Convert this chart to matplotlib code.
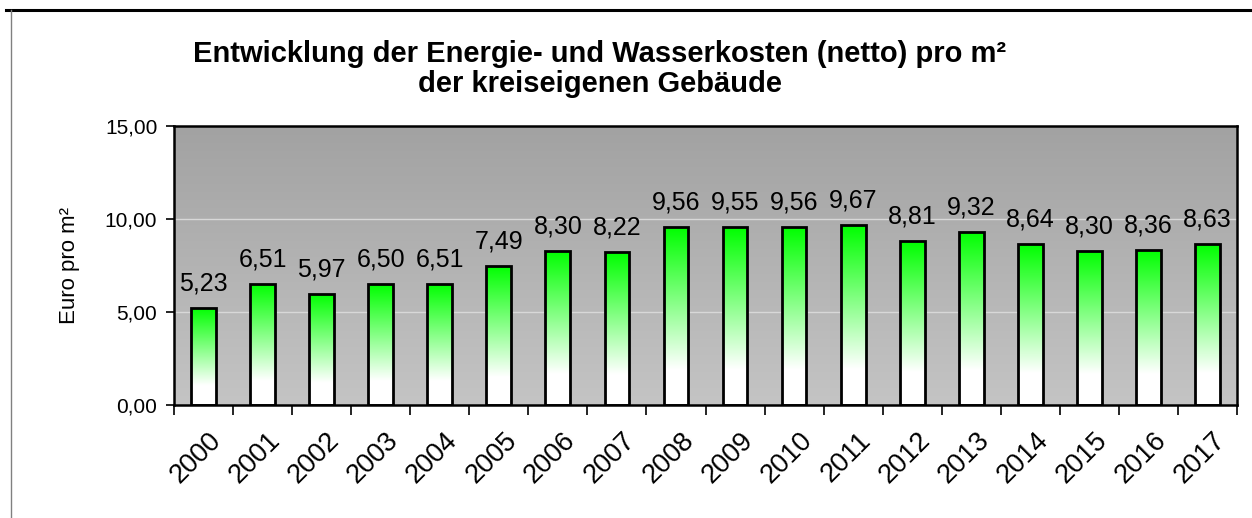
import numpy as np
import matplotlib
matplotlib.use("Agg")
import matplotlib.pyplot as plt
from matplotlib.colors import LinearSegmentedColormap
from matplotlib.lines import Line2D

plt.rcParams['font.family'] = ['Liberation Sans', 'DejaVu Sans']

years = ["2000", "2001", "2002", "2003", "2004", "2005", "2006", "2007", "2008",
         "2009", "2010", "2011", "2012", "2013", "2014", "2015", "2016", "2017"]
values = [5.23, 6.51, 5.97, 6.50, 6.51, 7.49, 8.30, 8.22, 9.56,
          9.55, 9.56, 9.67, 8.81, 9.32, 8.64, 8.30, 8.36, 8.63]
yticks = [0, 5, 10, 15]
title_lines = ["Entwicklung der Energie- und Wasserkosten (netto) pro m²",
               "der kreiseigenen Gebäude"]
ylabel = "Euro pro m²"

fig = plt.figure(figsize=(12.52, 5.18), dpi=100)
ax = fig.add_axes([174/1252, 1-405/518, (1237-174)/1252, (405-126)/518])

x = np.arange(len(years))
ax.set_xlim(-0.5, len(years) - 0.5)
ax.set_ylim(0, 15)

# background gradient
bg_cmap = LinearSegmentedColormap.from_list("bg", ["#c4c4c4", "#a2a2a2"])
bg = np.linspace(0, 1, 256).reshape(-1, 1)
ax.imshow(bg, cmap=bg_cmap, aspect='auto', origin='lower',
          extent=(-0.5, len(years) - 0.5, 0, 15), zorder=0)

for yv in [5, 10]:
    ax.axhline(yv, color='#d8d8d8', lw=1, zorder=1)

bar_cmap = LinearSegmentedColormap.from_list(
    "bar", [(0.0, "#ffffff"), (0.2, "#ffffff"), (1.0, "#00ff00")])
grad = np.linspace(0, 1, 256).reshape(-1, 1)
width = 0.42
bars = ax.bar(x, values, width=width, facecolor='none', edgecolor='black',
              linewidth=2, zorder=3)
for b, v in zip(bars, values):
    x0 = b.get_x()
    im = ax.imshow(grad, cmap=bar_cmap, aspect='auto', origin='lower',
                   extent=(x0, x0 + width, 0, v), zorder=2)
    im.set_clip_path(b)

for xi, v in zip(x, values):
    ax.annotate(f"{v:.2f}".replace('.', ','), (xi, v), xytext=(0, 9),
                textcoords='offset points', ha='center', va='bottom',
                fontsize=18, color='black', zorder=4)

ax.set_xlim(-0.5, len(years) - 0.5)
ax.set_ylim(0, 15)
ax.set_yticks(yticks)
ax.set_yticklabels([f"{t:.2f}".replace('.', ',') for t in yticks], fontsize=15)
ax.set_xticks(x + 0.08)
ax.set_xticklabels(years, rotation=45, ha='right', rotation_mode='anchor', fontsize=19.5)
ax.tick_params(axis='x', length=0, pad=16)
ax.set_xticks(np.arange(-0.5, len(years)), minor=True)
ax.tick_params(axis='x', which='minor', length=7, width=1.2, direction='out')
ax.tick_params(axis='y', length=6, width=1.2, direction='out', pad=6)
for s in ax.spines.values():
    s.set_linewidth(1.8)
    s.set_color('black')

ax.set_ylabel(ylabel, fontsize=16, labelpad=18)

fig.text(600/1252, 1 - 54/518, title_lines[0], ha='center', va='center',
         fontsize=21, fontweight='bold')
fig.text(600/1252, 1 - 84/518, title_lines[1], ha='center', va='center',
         fontsize=21, fontweight='bold')

fig.add_artist(Line2D([6/1252, 1], [1 - 10/518, 1 - 10/518], color='black', lw=2.2))
fig.add_artist(Line2D([11/1252, 11/1252], [0, 1 - 10/518], color='#808080', lw=1))

fig.savefig("out.png", dpi=100)
